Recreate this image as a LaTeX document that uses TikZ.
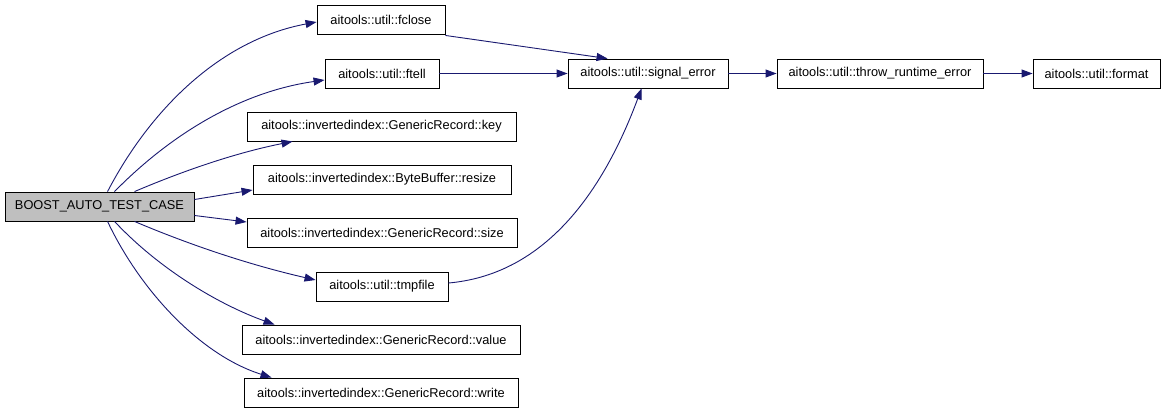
\documentclass[tikz,border=0pt]{standalone}
\usepackage{fontspec}
\setmainfont{Liberation Sans}
\usetikzlibrary{arrows.meta}
\definecolor{edgeblue}{HTML}{191970}
\definecolor{rootgray}{HTML}{BFBFBF}
\begin{document}
\begin{tikzpicture}[x=1pt,y=-1pt,
  box/.style={draw=black, line width=0.9pt, fill=white, inner sep=0pt, minimum height=29pt, font=\fontsize{12.8}{14}\selectfont, anchor=center},
  root/.style={box, fill=rootgray},
  edge/.style={draw=edgeblue, line width=0.9pt, -{Triangle[length=11pt,width=8pt]}}]
\path[use as bounding box] (0,0) rectangle (1168,413);
\node[root, minimum width=189pt] (boost) at (99.5,206.5) {BOOST\_AUTO\_TEST\_CASE};
\node[box, minimum width=128pt] (fclose) at (381,19.5) {aitools::util::fclose};
\node[box, minimum width=114pt] (ftell) at (382,73.5) {aitools::util::ftell};
\node[box, minimum width=160pt] (sig) at (648,73.5) {aitools::util::signal\_error};
\node[box, minimum width=206pt] (throw) at (880,73.5) {aitools::util::throw\_runtime\_error};
\node[box, minimum width=127pt] (format) at (1096.5,73.5) {aitools::util::format};
\node[box, minimum width=269pt] (key) at (381.5,126.5) {aitools::invertedindex::GenericRecord::key};
\node[box, minimum width=258pt] (resize) at (382,179.5) {aitools::invertedindex::ByteBuffer::resize};
\node[box, minimum width=270pt] (size) at (382,232.5) {aitools::invertedindex::GenericRecord::size};
\node[box, minimum width=132pt] (tmpfile) at (382,286.5) {aitools::util::tmpfile};
\node[box, minimum width=278pt] (value) at (381,339.5) {aitools::invertedindex::GenericRecord::value};
\node[box, minimum width=274pt] (write) at (381,392.5) {aitools::invertedindex::GenericRecord::write};

\draw[edge] ([xshift=103pt]boost.north west) .. controls (150,110) and (220,40) .. ([yshift=-2.5pt]fclose.west);
\draw[edge] ([xshift=110pt]boost.north west) .. controls (170,135) and (240,92) .. ([yshift=-6.5pt]ftell.west);
\draw[edge] ([xshift=130pt]boost.north west) .. controls (190,168) and (240,152) .. ([xshift=46pt]key.south west);
\draw[edge] ([yshift=7pt]boost.east) -- ([yshift=-10.5pt]resize.west);
\draw[edge] ([yshift=-9pt]boost.east) -- ([yshift=10.5pt]size.west);
\draw[edge] ([xshift=130pt]boost.south west) .. controls (190,245) and (250,265) .. ([yshift=6.5pt]tmpfile.west);
\draw[edge] ([xshift=110pt]boost.south west) .. controls (160,270) and (220,305) .. ([xshift=33pt]value.north west);
\draw[edge] ([xshift=103pt]boost.south west) .. controls (140,290) and (200,355) .. ([xshift=28pt]write.north west);
\draw[edge] ([yshift=-1pt]fclose.south east) -- ([xshift=40pt]sig.north west);
\draw[edge] (ftell.east) -- (sig.west);
\draw[edge] ([yshift=3.5pt]tmpfile.east) .. controls (540,275) and (600,200) .. ([xshift=74pt]sig.south west);
\draw[edge] (sig.east) -- (throw.west);
\draw[edge] (throw.east) -- (format.west);
\end{tikzpicture}
\end{document}
